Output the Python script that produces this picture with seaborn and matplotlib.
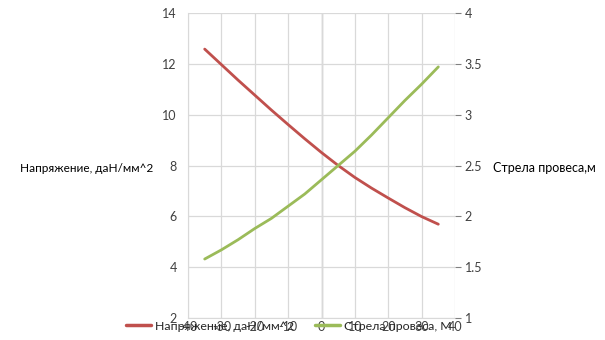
import matplotlib
matplotlib.use("Agg")
import matplotlib.pyplot as plt
import seaborn as sns
import pandas as pd
from matplotlib.lines import Line2D

temperature = [-35, -30, -25, -20, -15, -10, -5, 0, 5, 10, 15, 20, 25, 30, 35]
stress = [12.58, 11.97, 11.36, 10.77, 10.18, 9.61, 9.05, 8.51, 8.0, 7.53, 7.11, 6.72, 6.34, 5.99, 5.69]
sag = [1.58, 1.67, 1.77, 1.88, 1.98, 2.1, 2.22, 2.36, 2.5, 2.64, 2.8, 2.97, 3.14, 3.3, 3.47]
stress_label = "Напряжение, даН/мм^2"
sag_label = "Стрела провеса,м"
legend_sag = "Стрела провеса, М"
x_ticks = [-40, -30, -20, -10, 0, 10, 20, 30, 40]
left_ticks = [2, 4, 6, 8, 10, 12, 14]
right_ticks = [1, 1.5, 2, 2.5, 3, 3.5, 4]

sns.set_style("white")
plt.rcParams['font.family'] = ['Lato', 'DejaVu Sans']
plt.rcParams['font.size'] = 9

red = "#C0504D"
green = "#9BBB59"
grid = "#D9D9D9"

df = pd.DataFrame({"t": temperature, "s": stress, "f": sag})

fig = plt.figure(figsize=(6.05, 3.4), dpi=100)
ax = fig.add_axes([188/605, 1-318/340, (455-188)/605, (318-13)/340])
ax2 = ax.twinx()

sns.lineplot(data=df, x="t", y="s", ax=ax, color=red, linewidth=2.0, legend=False)
sns.lineplot(data=df, x="t", y="f", ax=ax2, color=green, linewidth=2.0, legend=False)

ax.set_xlim(-40, 40)
ax.set_ylim(2, 14)
ax2.set_ylim(1, 4)
ax.set_xticks(x_ticks)
ax.set_yticks(left_ticks)
ax2.set_yticks(right_ticks)
ax.set_xticklabels([str(v) for v in x_ticks])
ax.set_yticklabels([str(v) for v in left_ticks])
ax2.set_yticklabels([("%g" % v) for v in right_ticks])

ax.grid(True, color=grid, linewidth=0.9)
ax.set_axisbelow(True)
ax2.grid(False)
ax.axvline(0, color="#BFBFBF", linewidth=1.0, zorder=0.5)

for a in (ax, ax2):
    for sp in a.spines.values():
        sp.set_visible(False)
ax.spines['left'].set_visible(True)
ax.spines['left'].set_color(grid)
ax.spines['bottom'].set_visible(True)
ax.spines['bottom'].set_color(grid)

ax.tick_params(axis='x', length=0, pad=2, labelsize=9, colors="#404040")
ax.tick_params(axis='y', length=0, pad=8, labelsize=9, colors="#404040")
ax2.tick_params(axis='y', length=4, width=0.8, color="#808080", pad=3, labelsize=9, labelcolor="#404040")

ax.set_xlabel("")
ax.set_ylabel("")
ax2.set_ylabel("")

fig.text(20/605, 1-168/340, stress_label, ha="left", va="center", fontsize=8.5, color="#000000")
fig.text(493/605, 1-168/340, sag_label, ha="left", va="center", fontsize=9, color="#000000")

handles = [Line2D([], [], color=red, linewidth=2.5), Line2D([], [], color=green, linewidth=2.5)]
fig.legend(handles, [stress_label, legend_sag], loc="center", ncol=2,
           bbox_to_anchor=(289/605, 1-326/340), frameon=False, fontsize=8.9,
           handlelength=2.0, handletextpad=0.35, columnspacing=1.7, borderaxespad=0)

fig.savefig("out.png", dpi=100)
